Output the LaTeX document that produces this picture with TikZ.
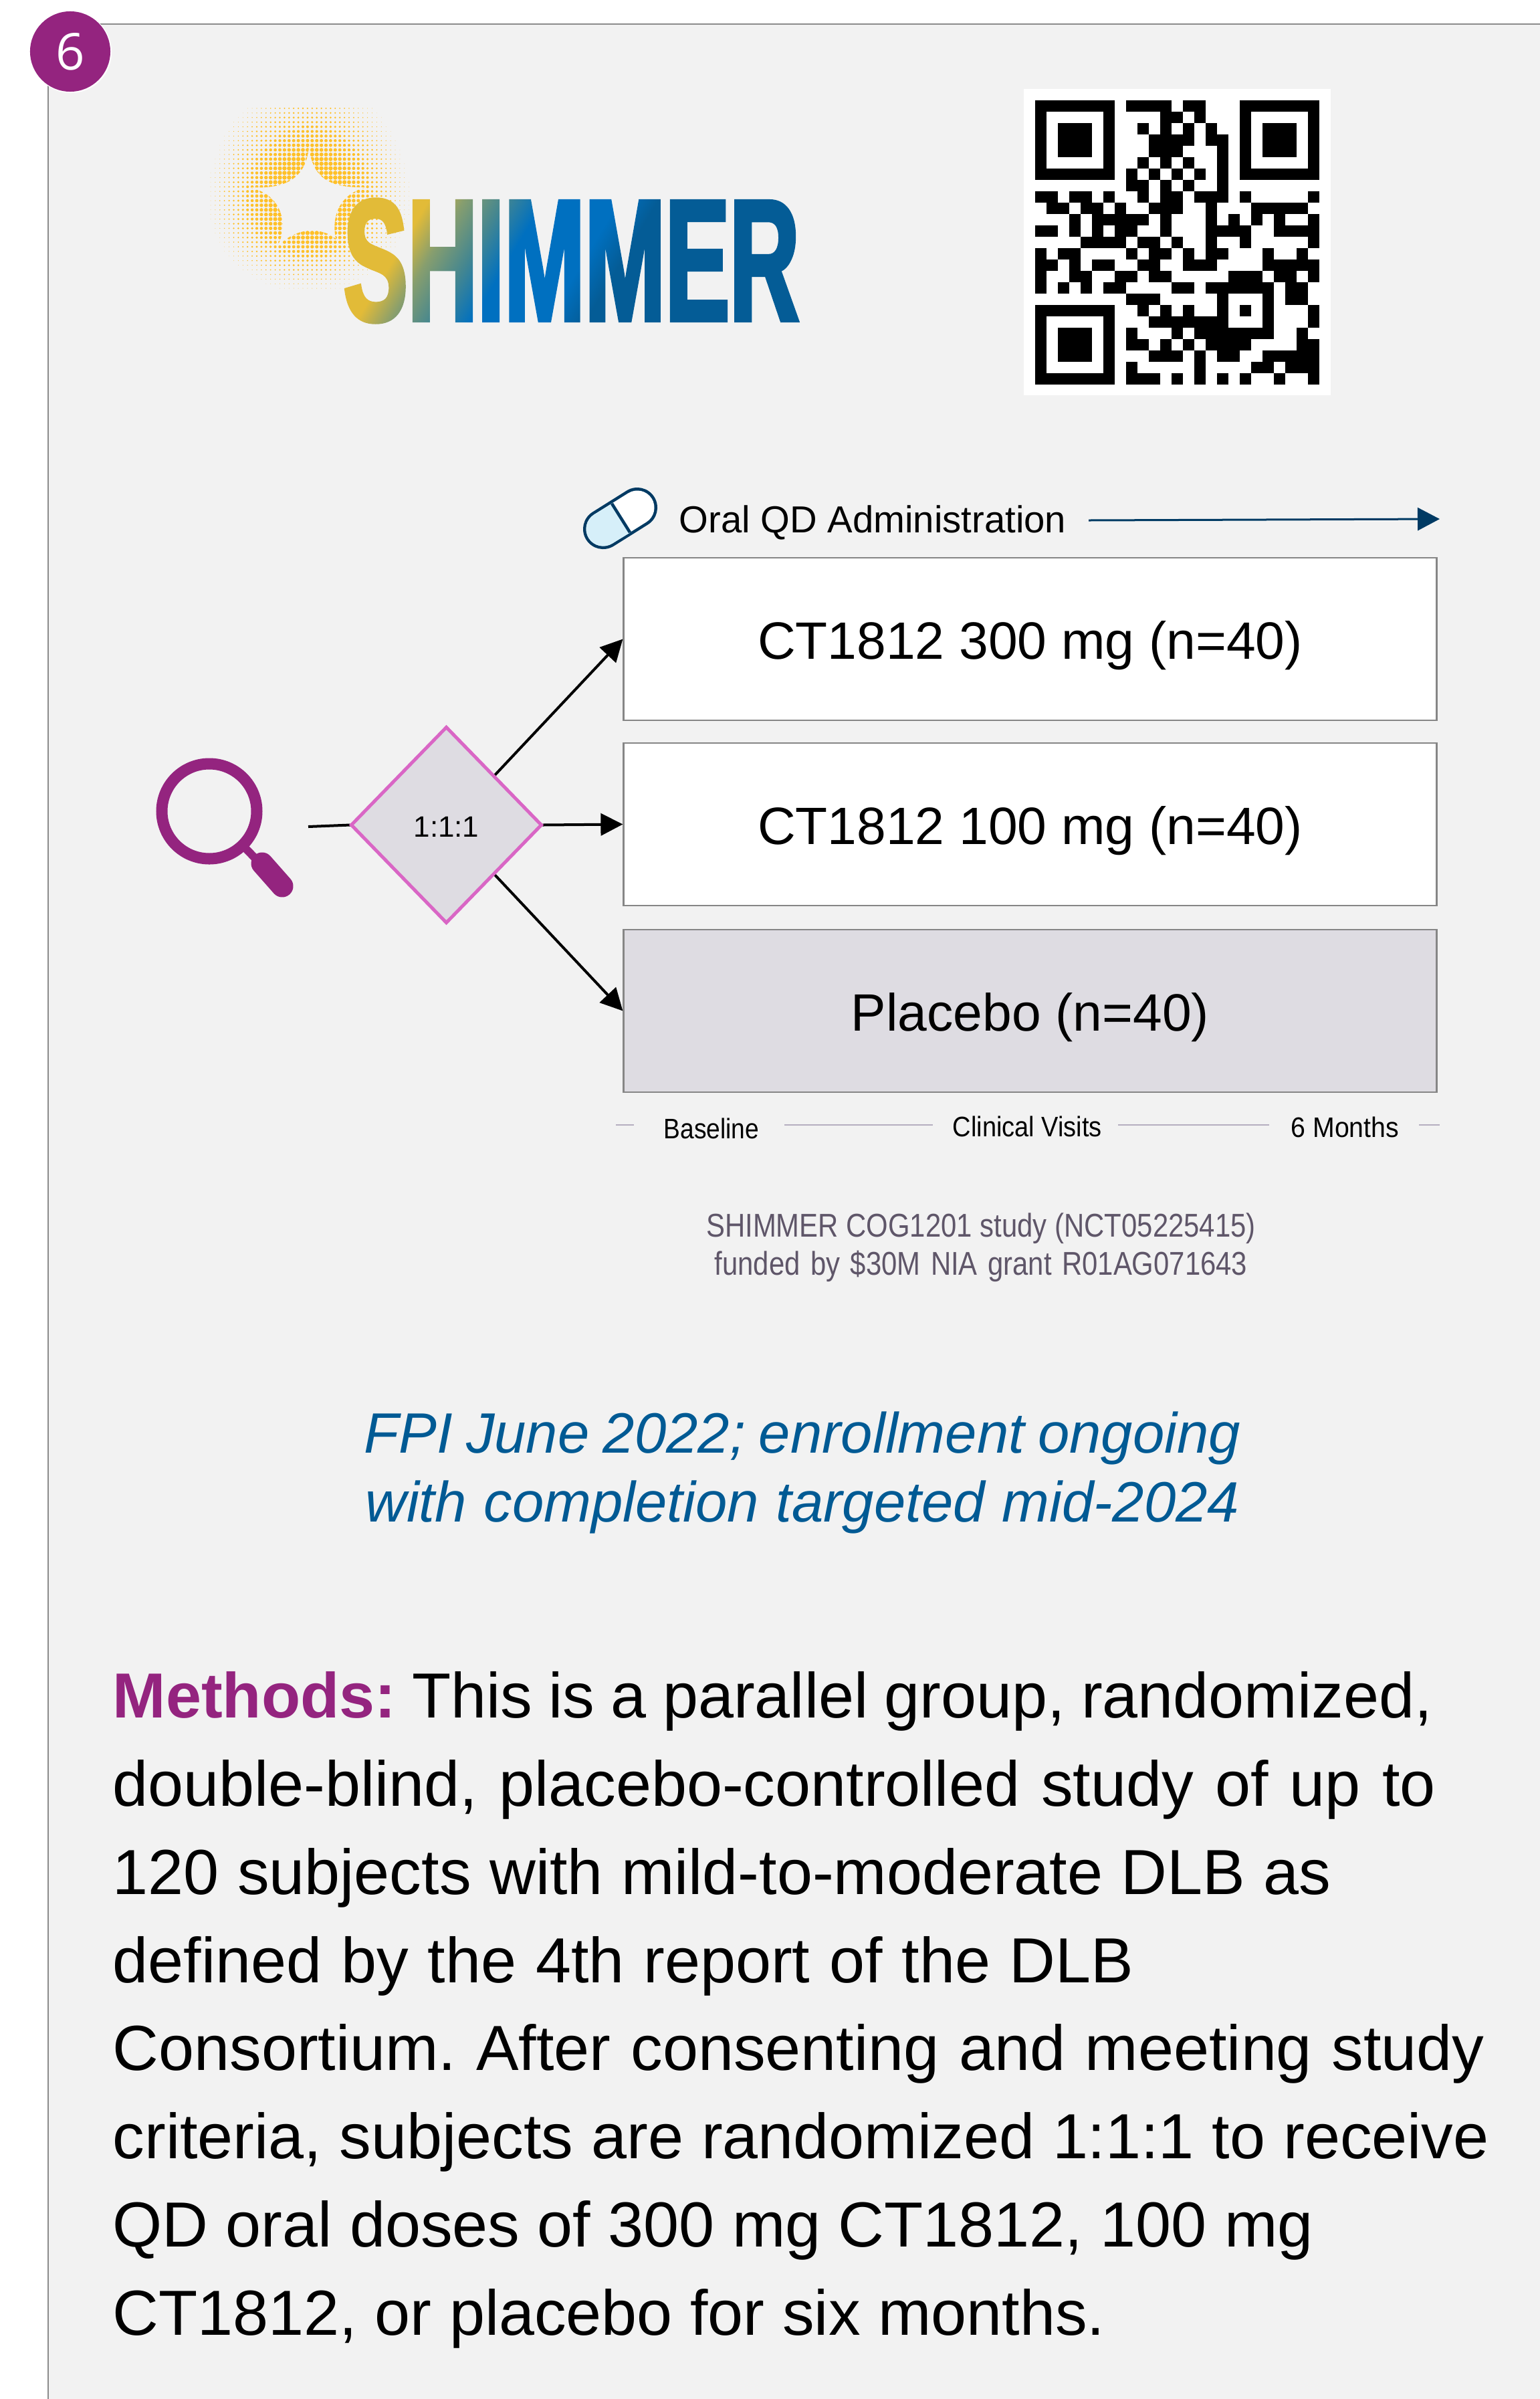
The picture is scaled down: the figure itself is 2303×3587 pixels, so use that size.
\documentclass[tikz,border=0pt]{standalone}
\usepackage{fontspec}
\usetikzlibrary{arrows.meta,shapes.geometric,fadings,shadings}
\setmainfont{Liberation Sans}
\newfontfamily\narrowfont[FakeStretch=0.88]{Liberation Sans}
\newfontfamily\narrowfontb[FakeStretch=0.90]{Liberation Sans}
\newfontfamily\narrowfontc[FakeStretch=0.93]{Liberation Sans}
\newfontfamily\captionfont[FakeStretch=0.85]{Liberation Sans}
\newfontfamily\badgefont{Open Sans}
\newfontfamily\logofont[UprightFont=* Bold,FakeStretch=0.555,FakeBold=2]{Liberation Sans}
\definecolor{panel}{HTML}{F2F2F2}
\definecolor{frameline}{HTML}{8C8C8C}
\definecolor{brandpurple}{HTML}{94247F}
\definecolor{boxline}{HTML}{868686}
\definecolor{armgrey}{HTML}{DEDCE2}
\definecolor{diamondline}{HTML}{D966C5}
\definecolor{navy}{HTML}{003A63}
\definecolor{pillblue}{HTML}{D6EFF9}
\definecolor{tickline}{HTML}{B5AEC0}
\definecolor{caption}{HTML}{5F5669}
\definecolor{fpiblue}{HTML}{005A94}
\definecolor{halo}{HTML}{FFC027}
\definecolor{lgold}{HTML}{E2BB38}
\definecolor{lolive}{HTML}{879E6E}
\definecolor{lteal}{HTML}{46878F}
\definecolor{lblue}{HTML}{0070C0}
\definecolor{ldark}{HTML}{045C96}
\pgfdeclarehorizontalshading{logograd}{100bp}{
  color(0bp)=(lgold); color(28.8bp)=(lgold); color(32.8bp)=(lolive);
  color(37.4bp)=(lteal); color(42.2bp)=(lblue); color(50.9bp)=(lblue);
  color(55.4bp)=(ldark); color(100bp)=(ldark)}
\begin{tikzfadingfrompicture}[name=logofade]
  \node[inner sep=6pt,text=transparent!0,font=\logofont\fontsize{74}{74}\selectfont] {SHIMMER};
\end{tikzfadingfrompicture}
\tikzset{
  armbox/.style={draw=boxline,line width=.025cm,minimum width=12.15cm,minimum height=2.43cm,
    inner sep=0pt,text height=.75cm,text depth=.16cm,font=\fontsize{22.35}{26}\selectfont},
  flow/.style={line width=.04cm,-{Triangle[length=.33cm,width=.33cm]}},
  plainflow/.style={line width=.04cm},
  tickrule/.style={draw=tickline,line width=.02cm},
  ticklabel/.style={anchor=base west,inner sep=0pt},
}
\begin{document}
\begin{tikzpicture}[x=.01cm,y=-.01cm]
\frenchspacing
\useasboundingbox (0,0) rectangle (2303,3587);
\fill[white] (0,0) rectangle (2303,3587);
\fill[panel] (72,36) rectangle (2303,3587);
\draw[frameline,line width=.025cm] (72,36) -- (2303,36);
\draw[frameline,line width=.02cm] (72,36) -- (72,3587);
% badge
\fill[white] (106,78) circle (61);
\node[circle,fill=brandpurple,minimum size=1.2cm,inner sep=0pt,text=white,font=\badgefont\fontsize{21.6}{24}\selectfont] (badge) at (105,77) {6};
% halftone halo
\begin{scope}[even odd rule]
\clip (300,140) rectangle (640,480)
  (462,220) .. controls (468,270) and (497,281) .. (547,280)
  .. controls (510,290) and (495,320) .. (502,357)
  .. controls (483,340) and (440,337) .. (412,373)
  .. controls (430,347) and (430,293) .. (373,280)
  .. controls (423,283) and (457,270) .. (462,220) -- cycle;
\foreach \i in {0,...,43}{\foreach \j in {0,...,43}{
  \pgfmathsetmacro\dx{\i*.69-14.7}
  \pgfmathsetmacro\dy{\j*.69-13.8}
  \pgfmathsetmacro\dd{sqrt(\dx*\dx+pow(\dy*(\dy<0?0.85:1.1),2))}
  \pgfmathsetmacro\rr{min(1,(16-\dd)/10.5)*3.2}
  \pgfmathparse{\rr>0.25?1:0}
  \ifnum\pgfmathresult=1
    \fill[halo] ({315+6.9*\i},{162+6.9*\j}) circle (\rr);
  \fi
}}
\end{scope}
% logo
\shade[path fading=logofade,fit fading=false,fading transform={shift={(854.5,390)}},
  shading=logograd,shading angle=-31] (480,285) rectangle (1240,495);
% QR code
\fill[white] (1531,133) rectangle (1990,591);
\foreach \cx/\cy in {0/0,18/0,0/18}{
  \fill[black] ({1548+17*\cx},{150+17*\cy}) rectangle ({1548+17*\cx+119},{150+17*\cy+119});
  \fill[white] ({1548+17*\cx+17},{150+17*\cy+17}) rectangle ({1548+17*\cx+102},{150+17*\cy+102});
  \fill[black] ({1548+17*\cx+34},{150+17*\cy+34}) rectangle ({1548+17*\cx+85},{150+17*\cy+85});
}
\foreach \r/\a/\b in {
 0/8/11,0/13/14,
 1/11/12,1/14/14,
 2/9/9,2/11/11,2/13/13,2/15/15,
 3/10/13,3/15/16,
 4/10/12,4/16/16,
 5/9/9,5/11/11,5/13/13,5/16/16,
 6/8/8,6/10/10,6/12/12,6/14/14,6/16/16,
 7/8/9,7/11/11,7/13/13,7/16/16,
 8/0/1,8/3/4,8/6/6,8/9/9,8/11/12,8/14/16,8/18/18,8/24/24,
 9/1/2,9/4/5,9/7/7,9/10/12,9/15/15,9/19/23,
 10/3/3,10/5/9,10/11/11,10/15/15,10/17/17,10/19/19,10/21/21,10/24/24,
 11/0/1,11/3/3,11/5/5,11/7/8,11/11/11,11/15/18,11/21/24,
 12/4/7,12/9/10,12/12/12,12/15/15,12/18/18,12/24/24,
 13/0/0,13/2/3,13/8/8,13/10/11,13/13/13,13/15/16,13/20/20,13/23/23,
 14/0/1,14/3/3,14/5/6,14/9/10,14/13/15,14/20/24,
 15/0/0,15/3/4,15/7/8,15/10/11,15/17/19,15/21/22,15/24/24,
 16/0/0,16/2/2,16/4/4,16/6/7,16/12/13,16/15/20,16/22/23,
 17/8/10,17/16/16,17/20/20,17/22/23,
 18/9/9,18/11/11,18/13/13,18/16/16,18/18/18,18/20/20,18/24/24,
 19/10/16,19/20/20,19/24/24,
 20/8/8,20/12/12,20/14/20,20/23/23,
 21/8/9,21/11/11,21/13/13,21/15/18,21/23/24,
 22/10/12,22/14/14,22/16/17,22/20/24,
 23/8/8,23/14/14,23/19/20,23/22/24,
 24/8/10,24/12/12,24/14/14,24/16/16,24/18/18,24/21/21,24/24/24}{
  \fill[black] ({1548+17*\a},{150+17*\r}) rectangle ({1548+17*\b+17},{150+17*\r+17.3});
}
% pill
\coordinate (pillA) at (953,759);
\coordinate (pillB) at (902,791);
\coordinate (pillM) at (928.5,775);
\draw[navy,line width=.6cm,line cap=round] (pillA) -- (pillB);
\draw[white,line width=.51cm,line cap=round] (pillA) -- (pillB);
\fill[pillblue] (pillB) circle (25.5);
\draw[pillblue,line width=.51cm] (pillB) -- (pillM);
\draw[navy,line width=.045cm] (915,753) -- (942,796);
% administration label
\node[anchor=base west,inner sep=0pt,font=\fontsize{16}{20}\selectfont] (oral) at (1015,796) {Oral QD Administration};
\coordinate (admStart) at (1628,778);
\coordinate (admEnd) at (2153,776);
\draw[navy,line width=.03cm,-{Triangle[length=.33cm,width=.34cm]}] (admStart) -- (admEnd);
% arms
\node[armbox,fill=white] (arm1) at (1540.5,955.5) {CT1812 300 mg (n=40)};
\node[armbox,fill=white] (arm2) at (1540.5,1232.5) {CT1812 100 mg (n=40)};
\node[armbox,fill=armgrey] (arm3) at (1540.5,1511.5) {Placebo (n=40)};
% randomisation
\node[diamond,minimum width=2.86cm,minimum height=2.94cm,inner sep=0pt,aspect=1,draw=none] (randghost) at (667.5,1233.5) {};
\draw[flow] (randghost.north east) -- (arm1.west);
\draw[flow] (randghost.east) -- (arm2.west);
\draw[flow] (randghost.south east) -- (arm3.west);
\coordinate (screenOut) at (461,1236);
\draw[plainflow] (screenOut) -- (randghost.west);
\node[diamond,minimum width=2.86cm,minimum height=2.94cm,inner sep=0pt,aspect=1,draw=diamondline,
  fill=armgrey,line width=.05cm,text height=.36cm,text depth=0pt,font=\fontsize{12.5}{15}\selectfont] (rand) at (667.5,1233.5) {1:1:1};
% magnifier
\draw[brandpurple,line width=.17cm] (313,1213) circle (71);
\draw[brandpurple,line width=.12cm] (362,1263) -- (390,1292);
\draw[brandpurple,line width=.33cm,line cap=round] (392,1291) -- (422,1325);
% timeline
\draw[tickrule] (921,1682) -- (948,1682);
\draw[tickrule] (1173,1682) -- (1395,1682);
\draw[tickrule] (1672,1682) -- (1898,1682);
\draw[tickrule] (2122,1682) -- (2153,1682);
\node[ticklabel,font=\narrowfont\fontsize{12}{14}\selectfont] (tbase) at (992,1702) {Baseline};
\node[ticklabel,font=\narrowfontb\fontsize{12}{14}\selectfont] (tvisit) at (1424,1699) {Clinical Visits};
\node[ticklabel,font=\narrowfontc\fontsize{12}{14}\selectfont] (tend) at (1930,1700) {6 Months};
% caption
\node[inner sep=0pt,align=center,anchor=north,text=caption,font=\captionfont\fontsize{14}{16.2}\selectfont] (cap) at (1467,1813) {\hbox to 8.21cm{SHIMMER COG1201 study (NCT05225415)}\\\hbox to 7.96cm{funded by \$30M NIA grant R01AG071643}};
% FPI
\node[inner sep=0pt,align=center,anchor=north,text=fpiblue,font=\itshape\fontsize{24.2}{29.3}\selectfont] (fpi) at (1200,2110) {\hbox to 13.1cm{FPI June 2022; enrollment ongoing}\\\hbox to 13.06cm{with completion targeted mid-2024}};
% body
\node[inner sep=0pt,align=left,anchor=north west,font=\fontsize{27.1}{37.47}\selectfont] (body) at (168,2499) {\hbox to 19.72cm{\textcolor{brandpurple}{\textbf{Methods:}} This is a parallel group, randomized,}\\\hbox to 19.77cm{double-blind, placebo-controlled study of up to}\\\hbox to 18.21cm{120 subjects with mild-to-moderate DLB as}\\\hbox to 15.26cm{defined by the 4th report of the DLB}\\\hbox to 20.5cm{Consortium. After consenting and meeting study}\\\hbox to 20.57cm{criteria, subjects are randomized 1:1:1 to receive}\\\hbox to 17.94cm{QD oral doses of 300 mg CT1812, 100 mg}\\\hbox to 14.83cm{CT1812, or placebo for six months.}};
\end{tikzpicture}
\end{document}
